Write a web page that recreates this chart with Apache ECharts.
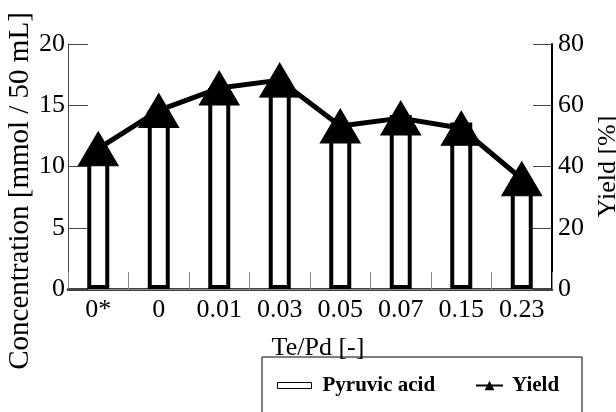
<!DOCTYPE html>
<html>
<head>
<meta charset="utf-8">
<script src="https://cdn.jsdelivr.net/npm/echarts@6/dist/echarts.min.js"></script>
<style>
  html, body { margin: 0; padding: 0; background: #fff; }
  #chart { width: 616px; height: 412px; }
</style>
</head>
<body>
<div id="chart"></div>
<script>
// Te/Pd ratio categories
const ratios = ['0*', '0', '0.01', '0.03', '0.05', '0.07', '0.15', '0.23'];
// Pyruvic acid concentration [mmol / 50 mL]
const pyruvicAcid = [11.4, 14.6, 16.4, 17.0, 13.1, 14.2, 13.6, 9.0];
// Yield [%]
const yieldPct = [45.8, 58.3, 65.6, 68.2, 53.2, 55.8, 52.5, 36.0];
// Axis ranges and tick steps
const concAxis = { min: 0, max: 20, interval: 5 };
const yieldAxis = { min: 0, max: 80, interval: 20 };

const serif = 'Liberation Serif';

const chart = echarts.init(document.getElementById('chart'), null, { renderer: 'canvas' });

chart.setOption({
  backgroundColor: '#ffffff',
  animation: false,
  grid: { left: 68, right: 64, top: 44, bottom: 123, containLabel: false, outerBoundsMode: 'none' },
  legend: [
    {
      data: [{ name: 'Pyruvic acid', icon: 'rect' }],
      left: 277, top: 375,
      itemWidth: 34, itemHeight: 6,
      itemStyle: { color: '#fff', borderColor: '#000', borderWidth: 1 },
      textStyle: { fontFamily: serif, fontSize: 21, fontWeight: 'bold', color: '#000', padding: [0, 0, 0, 6] },
      padding: 0
    },
    {
      data: ['Yield'],
      left: 475, top: 375,
      itemWidth: 27, itemHeight: 12,
      textStyle: { fontFamily: serif, fontSize: 21, fontWeight: 'bold', color: '#000', padding: [0, 0, 0, 4] },
      padding: 0
    }
  ],
  xAxis: [
    {
      type: 'category',
      data: ratios,
      position: 'bottom',
      name: 'Te/Pd [-]',
      nameLocation: 'middle',
      nameGap: 46,
      nameTextStyle: { fontFamily: serif, fontSize: 26, color: '#000', padding: [0, 0, 0, 16] },
      axisLine: { lineStyle: { color: '#000', width: 2.5 } },
      axisTick: { show: true, inside: true, length: 17, alignWithLabel: false, interval: 0, lineStyle: { color: '#888', width: 1 } },
      axisLabel: { fontFamily: serif, fontSize: 26, color: '#000', margin: 8, interval: 0, hideOverlap: false },
      splitLine: { show: false }
    },
    {
      type: 'category',
      data: ratios,
      position: 'top',
      axisLine: { lineStyle: { color: '#888', width: 1 } },
      axisTick: { show: false },
      axisLabel: { show: false },
      splitLine: { show: false }
    }
  ],
  yAxis: [
    {
      type: 'value',
      position: 'left',
      min: concAxis.min, max: concAxis.max, interval: concAxis.interval,
      axisLine: { show: true, lineStyle: { color: '#444', width: 1 } },
      axisTick: { show: true, inside: true, length: 20, lineStyle: { color: '#444', width: 1 } },
      axisLabel: { fontFamily: serif, fontSize: 26, color: '#000', margin: 3 },
      splitLine: { show: false }
    },
    {
      type: 'value',
      position: 'right',
      min: yieldAxis.min, max: yieldAxis.max, interval: yieldAxis.interval,
      name: 'Yield [%]',
      nameLocation: 'middle',
      nameGap: 40,
      nameRotate: 90,
      nameTextStyle: { fontFamily: serif, fontSize: 26, color: '#000' },
      axisLine: { show: true, lineStyle: { color: '#000', width: 2 } },
      axisTick: { show: true, inside: true, length: 19, lineStyle: { color: '#444', width: 1 } },
      axisLabel: { fontFamily: serif, fontSize: 26, color: '#000', margin: 6 },
      splitLine: { show: false }
    }
  ],
  graphic: [
    {
      // left axis title, read bottom to top
      type: 'text',
      x: 20, y: 191,
      rotation: Math.PI / 2,
      style: {
        text: 'Concentration [mmol / 50 mL]',
        font: '29px "Liberation Serif"',
        fill: '#000',
        align: 'center',
        verticalAlign: 'middle'
      }
    },
    {
      // legend frame
      type: 'rect',
      shape: { x: 262, y: 357, width: 320, height: 80 },
      style: { fill: 'none', stroke: '#000', lineWidth: 1 },
      z: 0
    }
  ],
  series: [
    {
      name: 'Pyruvic acid',
      type: 'bar',
      xAxisIndex: 0, yAxisIndex: 0,
      data: pyruvicAcid,
      barWidth: 22,
      itemStyle: { color: '#fff', borderColor: '#000', borderWidth: 4 },
      z: 2
    },
    {
      name: 'Yield',
      type: 'line',
      xAxisIndex: 0, yAxisIndex: 1,
      data: yieldPct,
      symbol: 'triangle',
      symbolSize: [40, 34],
      lineStyle: { color: '#000', width: 5 },
      itemStyle: { color: '#000', borderColor: '#000' },
      z: 3
    }
  ]
});
</script>
</body>
</html>
